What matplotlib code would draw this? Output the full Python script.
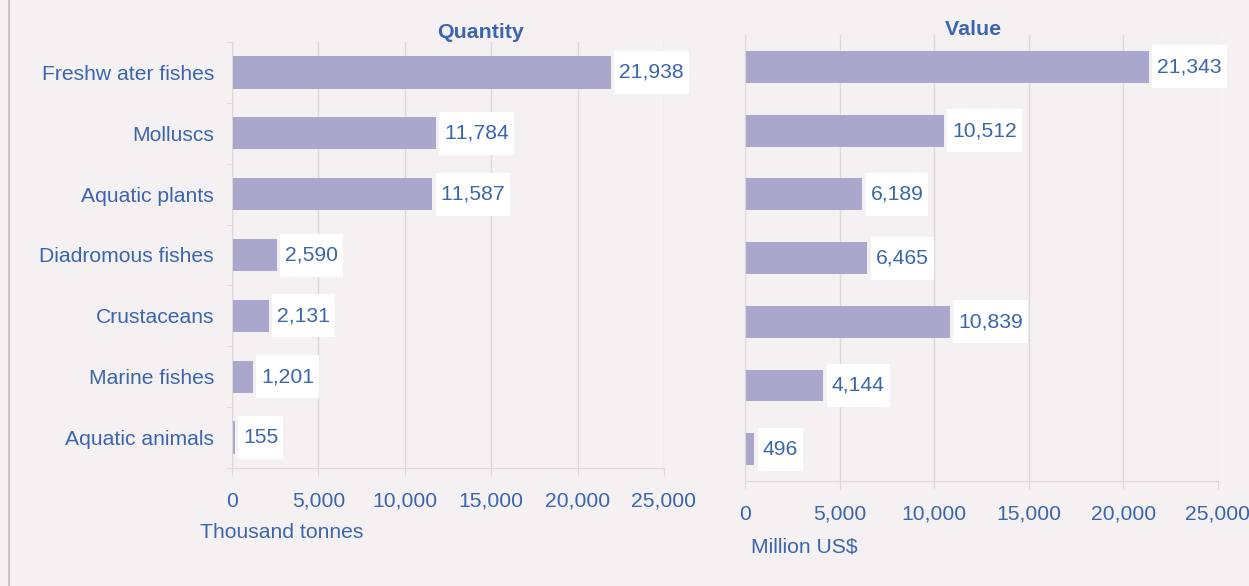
import numpy as np
import matplotlib.pyplot as plt
from matplotlib.patches import Rectangle
from matplotlib.ticker import FuncFormatter

plt.rcParams['font.family'] = ['Liberation Sans', 'DejaVu Sans']
try:
    plt.rcParams['text.kerning_factor'] = 20  # no kerning, like the original
except KeyError:
    pass

categories = ['Freshw ater fishes', 'Molluscs', 'Aquatic plants', 'Diadromous fishes',
              'Crustaceans', 'Marine fishes', 'Aquatic animals']
quantity = [21938, 11784, 11587, 2590, 2131, 1201, 155]
value = [21343, 10512, 6189, 6465, 10839, 4144, 496]

BG = '#f5f1f3'
BAR = '#a9a7cb'
TXT = '#3a66ad'
GRID = '#dcd8da'
FS = 15.2

W, H = 1249, 586
fig = plt.figure(figsize=(W / 100, H / 100), dpi=100, facecolor=BG)


def px_axes(x0, y0, x1, y1):
    return fig.add_axes([x0 / W, 1 - y1 / H, (x1 - x0) / W, (y1 - y0) / H])


def panel(ax, vals, bar_h, show_labels):
    ax.set_facecolor(BG)
    y = np.arange(len(vals))
    ax.barh(y, vals, height=bar_h, color=BAR, zorder=2)
    ax.set_xlim(0, 25000)
    ax.set_ylim(len(vals) - 0.5, -0.5)
    ax.set_xticks(np.arange(0, 25001, 5000))
    ax.xaxis.set_major_formatter(FuncFormatter(lambda v, p: f'{int(v):,}'))
    ax.grid(axis='x', color=GRID, lw=1, zorder=0)
    for s in ['top', 'right']:
        ax.spines[s].set_visible(False)
    ax.spines['bottom'].set_color(GRID)
    ax.spines['left'].set_color(GRID)
    ax.tick_params(axis='x', colors=GRID, labelcolor=TXT, labelsize=FS, length=6, pad=11)
    ax.set_yticks(y)
    ax.tick_params(axis='y', which='major', length=0, labelcolor=TXT, labelsize=FS, pad=13)
    if show_labels:
        ax.set_yticklabels(categories)
        ax.set_yticks(np.arange(len(vals) + 1) - 0.5, minor=True)
        ax.tick_params(axis='y', which='minor', length=4, color=GRID)
    else:
        ax.set_yticklabels([])
    texts = []
    for yi, v in zip(y, vals):
        t = ax.annotate(f'{v:,}', (v, yi), xytext=(6, 0), textcoords='offset points',
                        va='center', ha='left', color=TXT, fontsize=FS, zorder=4)
        texts.append((t, yi))
    return texts


ax1 = px_axes(232, 42, 664, 468)
lab1 = panel(ax1, quantity, 0.53, True)
ax2 = px_axes(745, 35, 1218, 481)
lab2 = panel(ax2, value, 0.5, False)

fig.text(480 / W, 1 - 37.5 / H, 'Quantity', ha='center', va='baseline',
         fontsize=15.4, fontweight='bold', color=TXT)
fig.text(973 / W, 1 - 35 / H, 'Value', ha='center', va='baseline',
         fontsize=15.4, fontweight='bold', color=TXT)
fig.text(200 / W, 1 - 538 / H, 'Thousand tonnes', ha='left', va='baseline',
         fontsize=FS, color=TXT)
fig.text(751 / W, 1 - 552 / H, 'Million US$', ha='left', va='baseline',
         fontsize=FS, color=TXT)

fig.add_artist(plt.Line2D([8.5 / W, 8.5 / W], [0, 1], color='#c8c4c6', lw=1.5))

# white boxes behind the value labels (in pixels)
fig.canvas.draw()
renderer = fig.canvas.get_renderer()
for ax, labs in [(ax1, lab1), (ax2, lab2)]:
    for t, yi in labs:
        bb = t.get_window_extent(renderer)
        yc = ax.transData.transform((0, yi))[1]
        rect = Rectangle((bb.x0 - 5, yc - 21.5), bb.width + 10, 43, transform=None,
                         fc='white', ec='none', zorder=3, clip_on=False)
        ax.add_artist(rect)

fig.savefig('out.png', dpi=100, facecolor=BG)
